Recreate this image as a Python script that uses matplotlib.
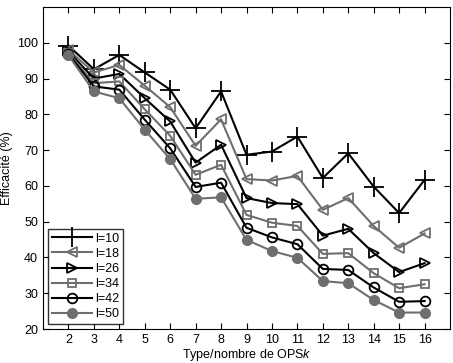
import matplotlib
matplotlib.use('Agg')
import matplotlib.pyplot as plt
import numpy as np

plt.rcParams['font.family'] = ['Liberation Sans', 'DejaVu Sans']
plt.rcParams['mathtext.fontset'] = 'custom'
plt.rcParams['mathtext.it'] = 'Liberation Sans:italic'

# Nombre de OPS
k = np.arange(2, 17)

# Efficacité (%) pour chaque l
l10 = [99.2, 92.6, 96.6, 91.7, 86.9, 76.1, 86.4, 68.7, 69.6, 73.8, 62.2, 69.1, 59.8, 52.4, 61.7]
l18 = [98.0, 91.7, 93.8, 88.0, 82.0, 71.2, 78.6, 61.9, 61.5, 62.8, 53.3, 56.6, 48.8, 42.7, 46.7]
l26 = [97.6, 90.0, 91.3, 84.5, 78.0, 66.5, 71.5, 56.6, 55.2, 54.9, 46.1, 48.0, 41.2, 35.9, 38.4]
l34 = [97.2, 88.7, 89.2, 81.4, 74.0, 63.1, 65.9, 51.9, 49.7, 48.8, 41.0, 41.2, 35.6, 31.4, 32.5]
l42 = [96.9, 87.8, 86.9, 78.5, 70.5, 59.7, 60.9, 48.3, 45.6, 43.7, 36.8, 36.5, 31.6, 27.6, 27.8]
l50 = [96.5, 86.4, 84.5, 75.7, 67.5, 56.4, 56.8, 44.9, 41.8, 39.9, 33.4, 32.8, 28.1, 24.6, 24.6]

labels = ['l=10', 'l=18', 'l=26', 'l=34', 'l=42', 'l=50']

noir = 'black'
gris = '#6e6e6e'

fig = plt.figure(figsize=(4.53, 3.63), dpi=100)
ax = fig.add_axes([43 / 453, 1 - 329 / 363, (450 - 43) / 453, (329 - 7) / 363])

ax.plot(k, l10, color=noir, lw=1.5, marker='+', ms=15, mew=1.3, label=labels[0])
ax.plot(k, l18, color=gris, lw=1.5, marker='<', ms=7, mfc='none', mew=1.3, label=labels[1])
ax.plot(k, l26, color=noir, lw=1.5, marker='>', ms=7, mfc='none', mew=1.3, label=labels[2])
ax.plot(k, l34, color=gris, lw=1.5, marker='s', ms=5.5, mfc='none', mew=1.3, label=labels[3])
ax.plot(k, l42, color=noir, lw=1.5, marker='o', ms=7, mfc='none', mew=1.3, label=labels[4])
ax.plot(k, l50, color=gris, lw=1.5, marker='o', ms=7, mfc=gris, mew=1.0, label=labels[5])

ax.set_xlim(1, 17)
ax.set_ylim(20, 110)
ax.set_xticks(k)
ax.set_yticks(np.arange(20, 101, 10))
ax.tick_params(direction='in', top=True, right=True, labelsize=9, length=4)
ax.set_xlabel('Type/nombre de OPS$k$', fontsize=9, labelpad=1)
ax.set_ylabel('Efficacité (%)', fontsize=9, labelpad=3)

leg = ax.legend(loc='lower left', fontsize=9, frameon=True, fancybox=False,
                edgecolor='black', borderpad=0.3, labelspacing=0.25,
                handlelength=3.2, handletextpad=0.3, borderaxespad=0.4)
leg.get_frame().set_linewidth(1.0)

fig.savefig('out.png', dpi=100)
